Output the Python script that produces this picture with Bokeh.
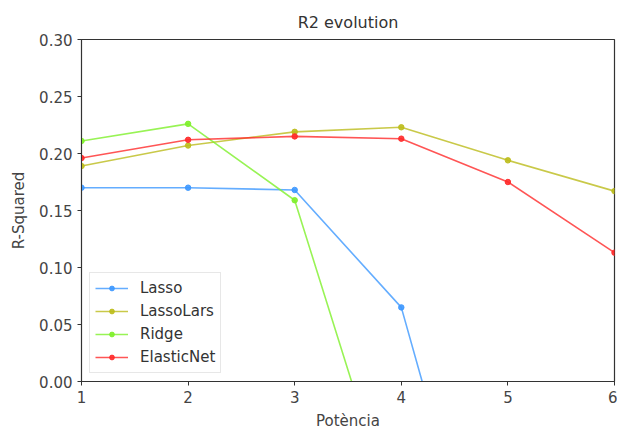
from bokeh.plotting import figure
from bokeh.embed import file_html
from bokeh.resources import INLINE
from bokeh.models import Range1d, FixedTicker, NumeralTickFormatter, Legend, LegendItem

potencia = [1, 2, 3, 4, 5, 6]
lasso = [0.170, 0.170, 0.168, 0.065, -0.267]
lassolars = [0.189, 0.207, 0.219, 0.223, 0.194, 0.167]
ridge = [0.211, 0.226, 0.159, -0.139]
elasticnet = [0.196, 0.212, 0.215, 0.213, 0.175, 0.113]

series = [
    ("Lasso", lasso, "#3d98ff"),
    ("LassoLars", lassolars, "#bcbc1c"),
    ("Ridge", ridge, "#7ef02a"),
    ("ElasticNet", elasticnet, "#ff2a2a"),
]

FONT = "DejaVu Sans"

p = figure(width=617, height=432, output_backend="svg", toolbar_location=None,
           x_range=Range1d(1, 6), y_range=Range1d(0, 0.30),
           min_border_left=81, min_border_right=3, min_border_top=39, min_border_bottom=51,
           title="R2 evolution")

p.title.align = "center"
p.title.text_font = FONT
p.title.text_font_size = "16px"
p.title.text_font_style = "normal"
p.title.text_color = "#333333"
p.title.standoff = 15

p.xgrid.visible = False
p.ygrid.visible = False
p.outline_line_color = "#333333"
p.outline_line_width = 1.2
p.background_fill_color = "white"
p.border_fill_color = "white"

for ax in (p.xaxis[0], p.yaxis[0]):
    ax.axis_line_color = "#333333"
    ax.major_tick_line_color = "#333333"
    ax.major_tick_out = 4
    ax.major_tick_in = 0
    ax.minor_tick_line_color = None
    ax.major_label_text_font = FONT
    ax.major_label_text_font_size = "15px"
    ax.major_label_text_color = "#444444"
    ax.axis_label_text_font = FONT
    ax.axis_label_text_font_size = "15px"
    ax.axis_label_text_font_style = "normal"
    ax.axis_label_text_color = "#444444"

p.xaxis.ticker = FixedTicker(ticks=potencia)
p.yaxis.ticker = FixedTicker(ticks=[0.0, 0.05, 0.10, 0.15, 0.20, 0.25, 0.30])
p.yaxis.formatter = NumeralTickFormatter(format="0.00")
p.xaxis.axis_label = "Potència"
p.yaxis.axis_label = "R-Squared"
p.xaxis.major_label_standoff = 5
p.yaxis.major_label_standoff = 5
p.xaxis.axis_label_standoff = 6
p.yaxis.axis_label_standoff = 8

items = []
for name, vals, col in series:
    xs = potencia[:len(vals)]
    l = p.line(xs, vals, line_color=col, line_width=1.6, line_alpha=0.8)
    c = p.scatter(xs, vals, size=5.5, fill_color=col, line_color=col, fill_alpha=0.9, line_alpha=0.9)
    items.append(LegendItem(label=name, renderers=[l, c]))

legend = Legend(items=items, location="bottom_left")
legend.margin = 8
legend.padding = 5
legend.spacing = 3
legend.glyph_width = 33
legend.glyph_height = 12
legend.label_height = 20
legend.label_standoff = 12
legend.label_text_font = FONT
legend.label_text_font_size = "15px"
legend.label_text_color = "#333333"
legend.border_line_color = "#d0d0d0"
legend.background_fill_alpha = 0.9
p.add_layout(legend)

open("out.html", "w").write(file_html(p, INLINE))
